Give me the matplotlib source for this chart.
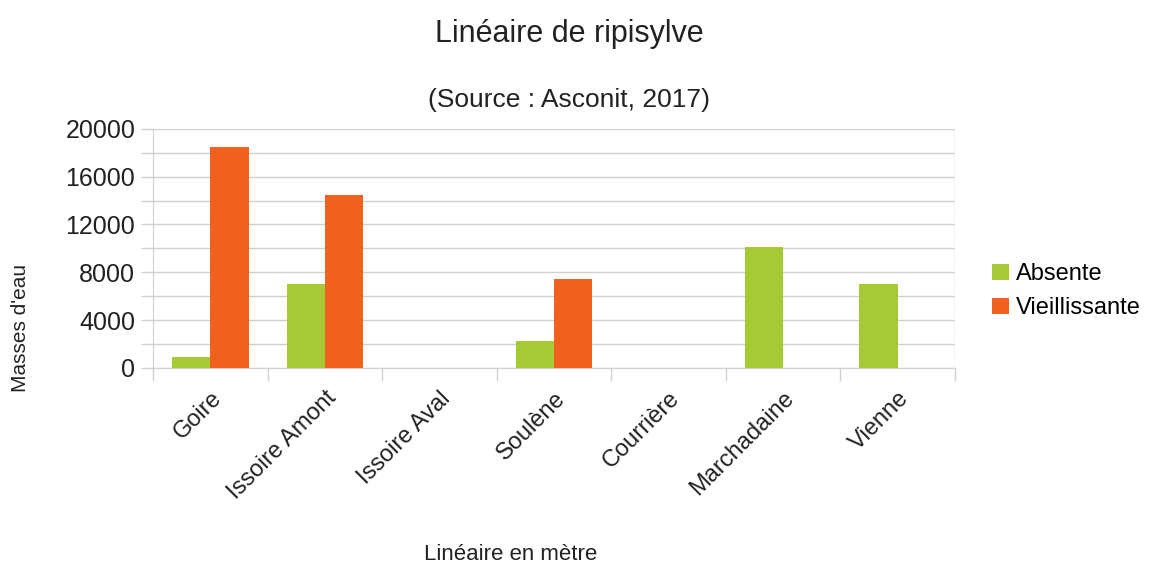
import numpy as np
import matplotlib
matplotlib.use("Agg")
import matplotlib.pyplot as plt
from matplotlib.ticker import MultipleLocator

plt.rcParams["font.family"] = ["Liberation Sans", "DejaVu Sans"]

categories = ["Goire", "Issoire Amont", "Issoire Aval", "Soulène", "Courrière", "Marchadaine", "Vienne"]
absente = [900, 7000, 0, 2280, 0, 10150, 7000]
vieillissante = [18500, 14500, 0, 7450, 0, 0, 0]
series_names = ["Absente", "Vieillissante"]
y_ticks = [0, 4000, 8000, 12000, 16000, 20000]

GREEN = "#A6CA35"
ORANGE = "#F0601F"
GRID = "#D0D0D0"
TEXT = "#222222"

fig = plt.figure(figsize=(11.52, 5.65), dpi=100)
ax = fig.add_axes([0.133, 0.349, 0.696, 0.423])

x = np.arange(len(categories))
width = 0.335
ax.bar(x - width / 2, absente, width, color=GREEN, label=series_names[0], zorder=3)
ax.bar(x + width / 2, vieillissante, width, color=ORANGE, label=series_names[1], zorder=3)

ax.set_xlim(-0.5, len(categories) - 0.5)
ax.set_ylim(0, 20000)
ax.set_yticks(y_ticks)
ax.yaxis.set_minor_locator(MultipleLocator(2000))
ax.grid(axis="y", which="both", color=GRID, linewidth=1.0, zorder=0)

# category separators as ticks on the x axis
ax.set_xticks(np.arange(-0.5, len(categories), 1.0))
ax.set_xticklabels([])
ax.set_xticks(x, minor=True)
ax.set_xticklabels(categories, minor=True, rotation=45, ha="right",
                   rotation_mode="anchor", fontsize=17, color=TEXT)
ax.tick_params(axis="x", which="major", length=9, color=GRID, width=1)
ax.tick_params(axis="x", which="minor", length=0, pad=14)
ax.tick_params(axis="y", which="both", length=9, color=GRID, width=1,
               labelsize=18, labelcolor=TEXT, pad=4)

for side in ["top", "right"]:
    ax.spines[side].set_visible(False)
ax.spines["left"].set_color(GRID)
ax.spines["bottom"].set_color(GRID)
ax.axvline(len(categories) - 0.5, color=GRID, linewidth=1.0, zorder=0)

fig.text(0.018, 0.42, "Masses d'eau", fontsize=15, color=TEXT,
         rotation=90, ha="center", va="center")
fig.text(0.443, 0.008, "Linéaire en mètre", fontsize=16, color=TEXT, ha="center")

fig.text(0.494, 0.925, "Linéaire de ripisylve", fontsize=22, color=TEXT, ha="center")
fig.text(0.494, 0.81, "(Source : Asconit, 2017)", fontsize=19, color=TEXT, ha="center")

ax.legend(loc="center left", bbox_to_anchor=(1.02, 0.32), frameon=False,
          fontsize=17, handlelength=0.7, handleheight=0.7, handletextpad=0.3,
          labelspacing=0.5)

fig.savefig("out.png", dpi=100)
